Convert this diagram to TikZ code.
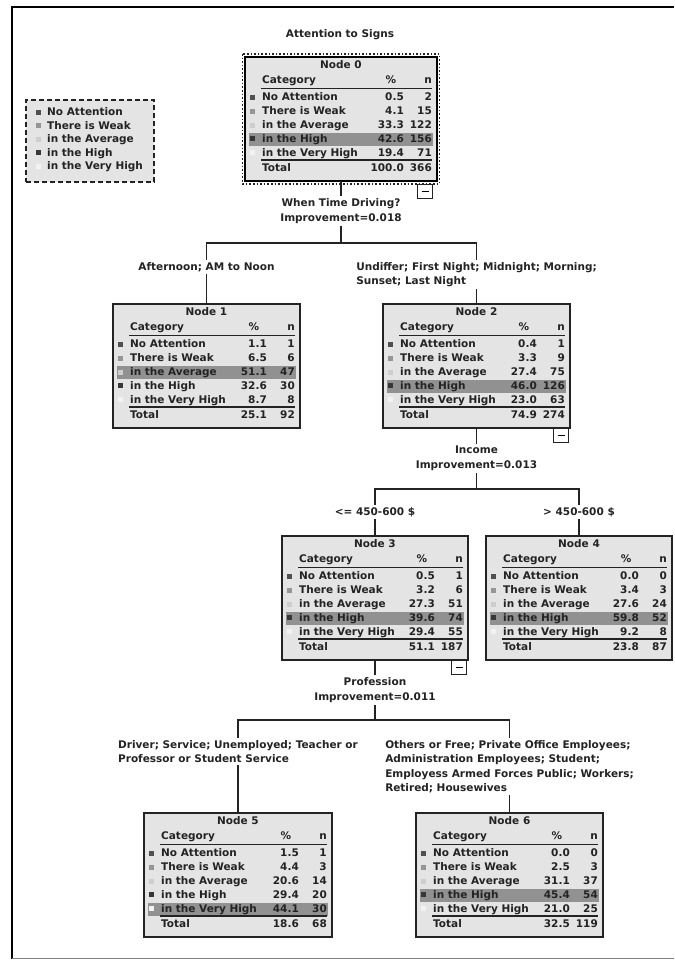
\documentclass[tikz,border=0pt]{standalone}
\usepackage{fontspec}
\setmainfont{DejaVu Sans}
\usepackage{tikz}
\usetikzlibrary{calc}
\definecolor{ink}{RGB}{35,35,35}
\definecolor{boxgray}{RGB}{228,228,228}
\definecolor{hilite}{RGB}{145,145,145}
\definecolor{cat1}{RGB}{80,80,80}
\definecolor{cat2}{RGB}{150,150,150}
\definecolor{cat3}{RGB}{205,205,205}
\definecolor{cat4}{RGB}{55,55,55}
\definecolor{cat5}{RGB}{242,242,242}
\newcommand{\catlabel}[1]{\ifcase#1\or No Attention\or There is Weak\or in the Average\or in the High\or in the Very High\fi}
\newcommand{\cattable}[8]{%
	\begin{scope}[shift={(#2,#3)}]
		\node[tablebox,minimum width=#4pt,anchor=north west] (n#1) at (0,0) {};
		\fill[hilite] (4,{34.5+13.8*(#5-1)}) rectangle ({#4-4},{47.5+13.8*(#5-1)});
		\node[txt] (n#1-title) at ({#4/2},9) {Node #1};
		\node[txt,anchor=west] (n#1-cat) at (17,24) {Category};
		\node[txt] (n#1-pct) at ({#4-46},24) {\%};
		\node[txt,anchor=east] (n#1-n) at ({#4-5},24) {n};
		\draw[tabrule] (16,31.5) -- ({#4-5},31.5);
		\foreach \pc/\cnt [count=\i] in {#6} {
			\fill[fill=cat\i] (5,{38+13.8*(\i-1)}) rectangle (10,{43+13.8*(\i-1)});
			\node[txt,anchor=west] (n#1-l\i) at (17,{41+13.8*(\i-1)}) {\catlabel{\i}};
			\node[txt,anchor=east] (n#1-p\i) at ({#4-33},{41+13.8*(\i-1)}) {\pc};
			\node[txt,anchor=east] (n#1-c\i) at ({#4-5},{41+13.8*(\i-1)}) {\cnt};
		}
		\draw[tabrule] (16,103) -- ({#4-5},103);
		\node[txt,anchor=west] (n#1-tot) at (17,112) {Total};
		\node[txt,anchor=east] (n#1-tp) at ({#4-33},112) {#7};
		\node[txt,anchor=east] (n#1-tn) at ({#4-5},112) {#8};
	\end{scope}
}

\begin{document}
\begin{tikzpicture}[x=1pt,y=-1pt,
		txt/.style={inner sep=0pt,text=ink,font=\fontsize{10.5}{14.5}\selectfont\bfseries,text height=7.7pt,text depth=2pt},
		lbl/.style={inner sep=2pt,text=ink,font=\fontsize{10.5}{14.5}\selectfont\bfseries},
		tablebox/.style={draw=ink,line width=1.4pt,fill=boxgray,minimum height=124pt,inner sep=0pt,outer sep=0pt},
		tabrule/.style={draw=ink,line width=1.3pt},
		conn/.style={draw=ink,line width=1.3pt},
		minusbox/.style={draw=ink,fill=white,line width=1pt,minimum width=15pt,minimum height=14pt,inner sep=0pt}]
	\useasboundingbox (0,0) rectangle (674,960);
	\draw[line width=2.5pt,black] (12,959) -- (12,7) -- (674,7);
	\draw[line width=1.5pt,gray] (12,958.5) -- (674,958.5);

	\node[txt] (title) at (340,35) {Attention to Signs};

	\node[draw=ink,dash pattern=on 5pt off 3pt,line width=1.3pt,fill=boxgray,minimum width=128pt,minimum height=82pt] (legend) at (90,141) {};
	\foreach \i in {1,...,5} {
		\fill[fill=cat\i] (36,{110+13.5*(\i-1)}) rectangle ++(5,5);
		\node[txt,anchor=west] (leg\i) at (47,{113+13.5*(\i-1)}) {\catlabel{\i}};
	}

	\cattable{0}{245}{57}{192}{4}{0.5/2,4.1/15,33.3/122,42.6/156,19.4/71}{100.0}{366}
	\cattable{1}{113}{304}{187}{3}{1.1/1,6.5/6,51.1/47,32.6/30,8.7/8}{25.1}{92}
	\cattable{2}{383}{304}{187}{4}{0.4/1,3.3/9,27.4/75,46.0/126,23.0/63}{74.9}{274}
	\cattable{3}{282}{536}{186}{4}{0.5/1,3.2/6,27.3/51,39.6/74,29.4/55}{51.1}{187}
	\cattable{4}{486}{536}{186}{4}{0.0/0,3.4/3,27.6/24,59.8/52,9.2/8}{23.8}{87}
	\cattable{5}{144}{813}{188}{5}{1.5/1,4.4/3,20.6/14,29.4/20,44.1/30}{18.6}{68}
	\cattable{6}{416}{813}{187}{4}{0.0/0,2.5/3,31.1/37,45.4/54,21.0/25}{32.5}{119}

	\draw[black,line width=2.2pt] (n0.north west) rectangle (n0.south east);
	\draw[ink,dotted,line width=1.6pt] ([shift={(-2.5,-3)}]n0.north west) rectangle ([shift={(2.5,3)}]n0.south east);

	\node[minusbox,anchor=north east] (m0) at ([xshift=-4pt,yshift=-3pt]n0.south east) {\rule{7pt}{1.2pt}};
	\node[minusbox,anchor=north east] (m2) at ([xshift=-1pt]n2.south east) {\rule{7pt}{1.2pt}};
	\node[minusbox,anchor=north east] (m3) at ([xshift=-1pt]n3.south east) {\rule{7pt}{1.2pt}};

	\node[lbl,align=center] (sp0) at (341,211) {When Time Driving?\\Improvement=0.018};
	\coordinate (j0) at (341,243);
	\node[lbl] (b1) at (206.5,267) {Afternoon; AM to Noon};
	\node[lbl,align=left] (b2) at (476.5,274.5) {Undiffer; First Night; Midnight; Morning;\\Sunset; Last Night};

	\node[lbl,align=center] (sp2) at (476.5,458.5) {Income\\Improvement=0.013};
	\coordinate (j2) at (476.5,489);
	\node[lbl] (b3) at (375,512) {<= 450-600 \$};
	\node[lbl] (b4) at (579,512) {> 450-600 \$};

	\node[lbl,align=center] (sp3) at (375,690) {Profession\\Improvement=0.011};
	\coordinate (j3) at (375,720);
	\node[lbl,align=left] (b5) at (238,751.5) {Driver; Service; Unemployed; Teacher or\\Professor or Student Service};
	\node[lbl,align=left] (b6) at (509.5,766.5) {Others or Free; Private Office Employees;\\Administration Employees; Student;\\Employess Armed Forces Public; Workers;\\Retired; Housewives};

	\draw[conn] (n0.south) -- (sp0);
	\draw[conn] (sp0) -- (j0) -| (b1);
	\draw[conn] (j0) -| (b2);
	\draw[conn] (b1) -- (n1);
	\draw[conn] (b2) -- (n2);
	\draw[conn] (n2.south) -- (sp2);
	\draw[conn] (sp2) -- (j2) -| (b3);
	\draw[conn] (j2) -| (b4);
	\draw[conn] (b3) -- (n3);
	\draw[conn] (b4) -- (n4);
	\draw[conn] (n3.south) -- (sp3);
	\draw[conn] (sp3) -- (j3) -| (b5);
	\draw[conn] (j3) -| (b6);
	\draw[conn] (b5) -- (n5);
	\draw[conn] (b6) -- (n6);
\end{tikzpicture}
\end{document}
